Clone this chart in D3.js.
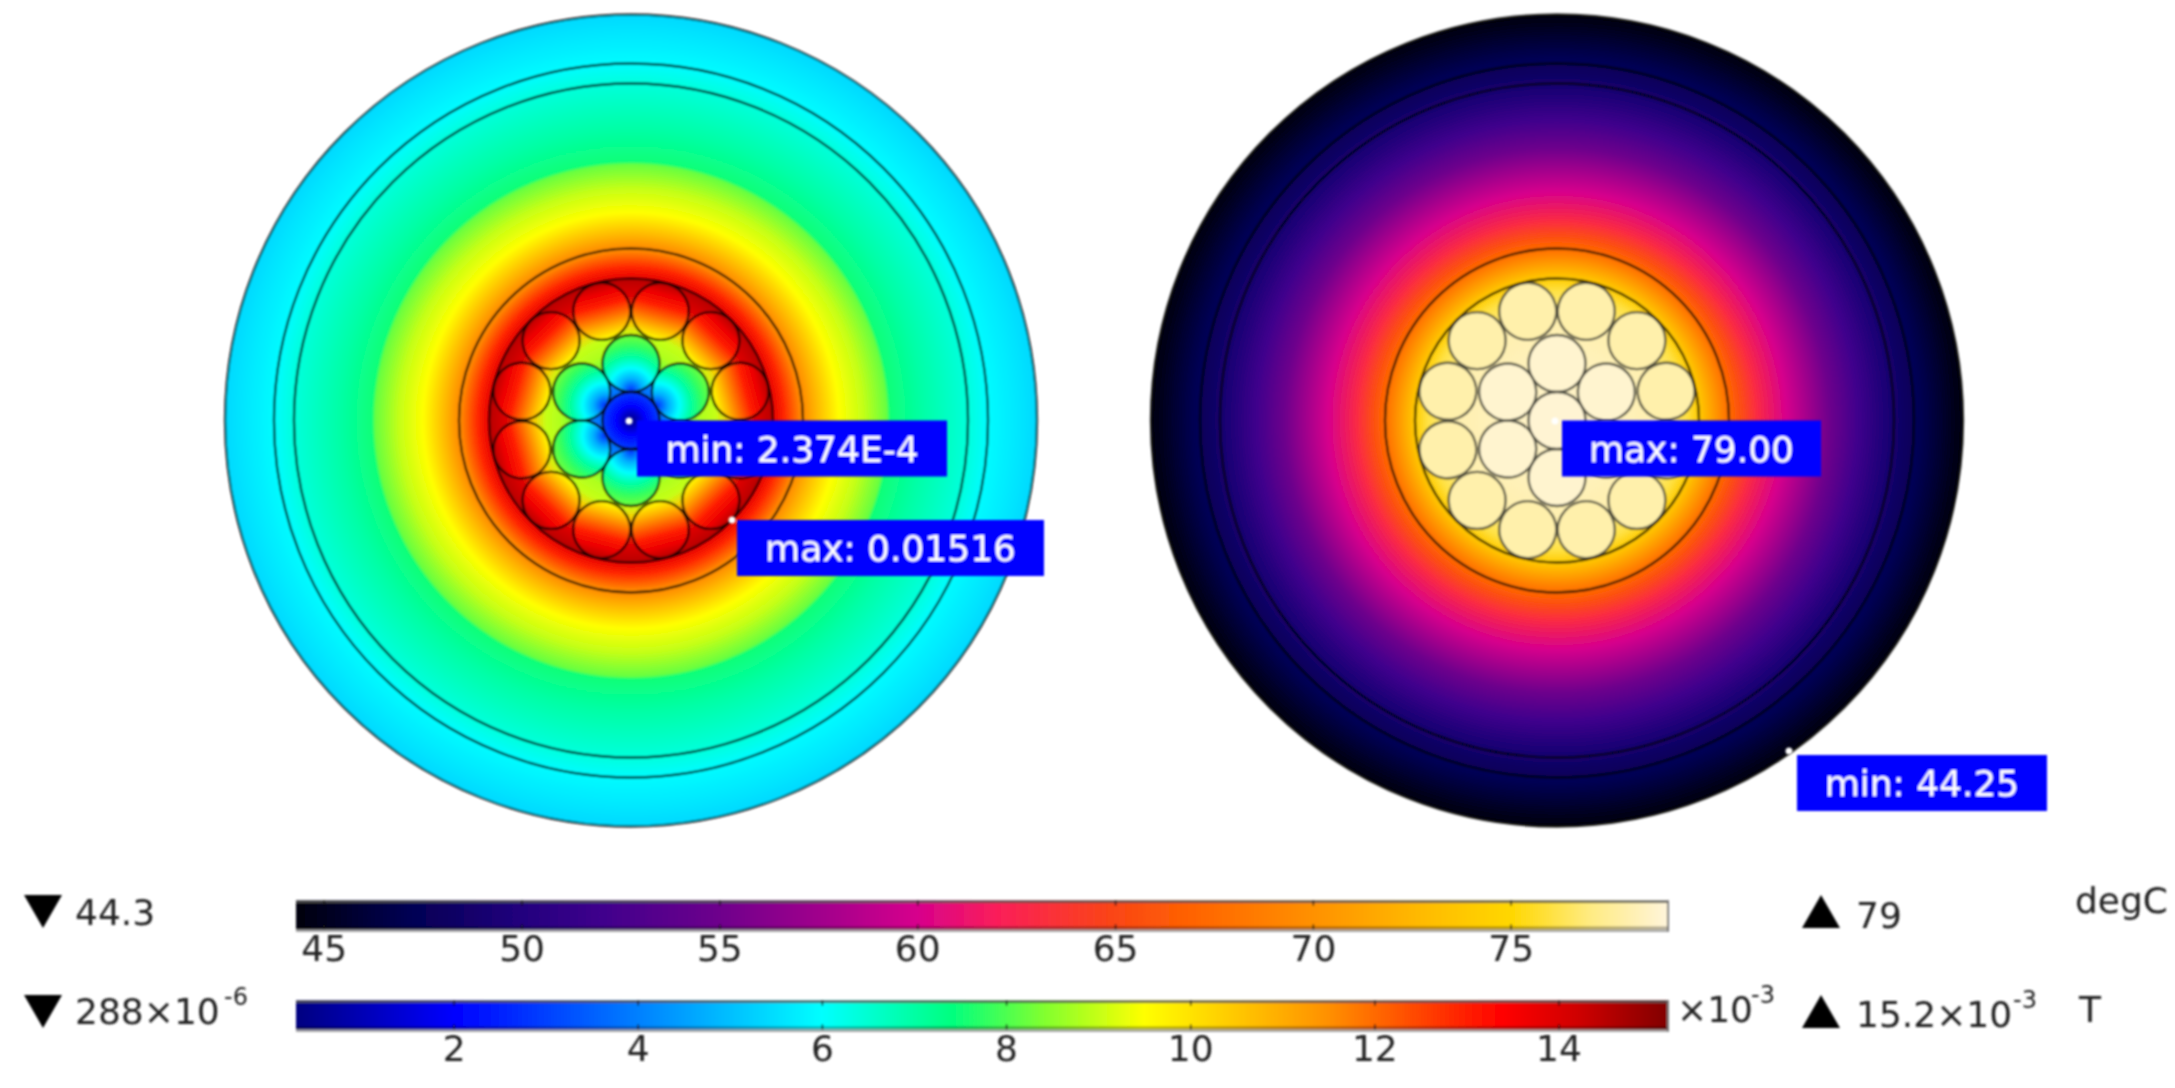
<!DOCTYPE html>
<html>
<head>
<meta charset="utf-8">
<script src="https://d3js.org/d3.v7.min.js"></script>
<style>
  html, body { margin: 0; padding: 0; background: #fff; }
  svg { display: block; }
  text { font-family: "DejaVu Sans", sans-serif; }
</style>
</head>
<body>
<div id="chart"></div>
<script>
// colour tables
var tempStops = [44.3, 47, 50, 52, 55, 58, 60, 62, 65, 67, 70, 73, 75, 77, 79];
var tempColors = ["#00000c", "#000050", "#22007e", "#3f008c", "#6e008c", "#aa008c", "#d7008c", "#fa1e5a", "#fa4614", "#ff6400", "#ff9100", "#ffbe00", "#ffd700", "#ffeb82", "#fff5dc"];
var fieldStops = [0.288, 2, 4, 6, 7.4, 8.4, 9.5, 11.5, 13.4, 14.2, 15.2];
var fieldColors = ["#000080", "#0000ff", "#0080ff", "#00ffff", "#00ff80", "#80ff30", "#ffff00", "#ff9000", "#ff0000", "#d00000", "#800000"];

// colour bar ticks
var tempTicks = [45, 50, 55, 60, 65, 70, 75];
var fieldTicks = [2, 4, 6, 8, 10, 12, 14];

// radial profiles, radius in px from the cable centre
var fieldRadii = [172, 186, 208, 232, 256, 259, 290, 337, 357, 406];
var fieldValues = [11.6, 10.8, 9.5, 9.0, 8.2, 7.5, 7.0, 6.4, 5.95, 5.4];
var sheathRadii = [142, 153, 172];
var sheathValues = [13.8, 12.9, 11.4];
var gapRadii = [0, 30, 45, 58, 70, 85, 98, 110, 125, 142];
var gapValues = [3.5, 3.7, 4.5, 8.3, 8.8, 9, 10.5, 12.5, 14, 14.5];

var tempRadii = [0, 100, 130, 142, 172, 181, 200, 229, 272, 301, 329, 345, 365, 406];
var tempValues = [78.7, 78, 76, 74, 67.5, 66, 63, 60, 55, 52, 49.5, 48.3, 47, 44.3];

// values across a strand, offset 0..1
var outerOffsets = [0, 0.2, 0.4, 0.6, 0.8, 1];
var outerValues = [14.5, 13.7, 13, 12, 10.8, 9.5];
var innerOffsets = [0, 0.2, 0.4, 0.6, 0.8, 1];
var innerValues = [2.8, 4.7, 6, 7, 7.8, 8.3];
var coreOffsets = [0, 0.2, 0.5, 1];
var coreValues = [0.3, 1, 2, 3];

var outerAngles = [15, 45, 75, 105, 135, 165, 195, 225, 255, 285, 315, 345];
var innerAngles = [0, 60, 120, 180, 240, 300];
var ringRadii = [406, 357, 337, 172, 142];

var width = 2175,
    height = 1088;

var tempColor = d3.scaleLinear().domain(tempStops).range(tempColors);
var fieldColor = d3.scaleLinear().domain(fieldStops).range(fieldColors);

var svg = d3.select("#chart").append("svg")
    .attr("width", width)
    .attr("height", height)
    .attr("viewBox", "0 0 " + width + " " + height);

var defs = svg.append("defs");

// the reference is a soft upscale, so everything gets a small blur
defs.append("filter").attr("id", "soft")
    .attr("x", "-5%").attr("y", "-5%").attr("width", "110%").attr("height", "110%")
    .append("feGaussianBlur").attr("stdDeviation", 0.8);

function addStops(grad, offsets, values, color) {
  grad.selectAll("stop")
    .data(offsets)
    .enter().append("stop")
      .attr("offset", function(d) { return d; })
      .attr("stop-color", function(d, i) { return color(values[i]); });
}

function radialGrad(id, radii, values, color) {
  var rMax = radii[radii.length - 1];
  var grad = defs.append("radialGradient").attr("id", id)
      .attr("gradientUnits", "userSpaceOnUse")
      .attr("cx", 0).attr("cy", 0).attr("r", rMax);
  addStops(grad, radii.map(function(r) { return r / rMax; }), values, color);
}

radialGrad("b-far", fieldRadii, fieldValues, fieldColor);
radialGrad("b-sheath", sheathRadii, sheathValues, fieldColor);
radialGrad("b-gap", gapRadii, gapValues, fieldColor);
radialGrad("t-all", tempRadii, tempValues, tempColor);

addStops(defs.append("linearGradient").attr("id", "b-outer")
    .attr("x1", 0).attr("y1", 0).attr("x2", 0).attr("y2", 1),
  outerOffsets, outerValues, fieldColor);
addStops(defs.append("radialGradient").attr("id", "b-inner")
    .attr("cx", 0.5).attr("cy", 0.97).attr("r", 0.97),
  innerOffsets, innerValues, fieldColor);
addStops(defs.append("radialGradient").attr("id", "b-core"),
  coreOffsets, coreValues, fieldColor);

function drawCable(cx, fills) {
  var g = svg.append("g")
      .attr("transform", "translate(" + cx + ",420.5)")
      .attr("filter", "url(#soft)");

  g.append("circle").attr("r", ringRadii[0]).attr("fill", fills.far);
  if (fills.sheath) g.append("circle").attr("r", 172).attr("fill", fills.sheath);
  if (fills.gap) g.append("circle").attr("r", 142).attr("fill", fills.gap);

  g.selectAll(".outer")
    .data(outerAngles)
    .enter().append("circle")
      .attr("class", "outer")
      .attr("r", 28.5)
      .attr("transform", function(d) { return "rotate(" + d + ") translate(0,-113)"; })
      .attr("fill", fills.outer)
      .attr("stroke", fills.strandLine)
      .attr("stroke-opacity", 0.85)
      .attr("stroke-width", 2.4);

  g.selectAll(".inner")
    .data(innerAngles)
    .enter().append("circle")
      .attr("class", "inner")
      .attr("r", 28.5)
      .attr("transform", function(d) { return "rotate(" + d + ") translate(0,-57)"; })
      .attr("fill", fills.inner)
      .attr("stroke", fills.strandLine)
      .attr("stroke-opacity", 0.85)
      .attr("stroke-width", 2.4);

  g.append("circle").attr("r", 28.5)
    .attr("fill", fills.core)
    .attr("stroke", fills.strandLine)
    .attr("stroke-opacity", 0.85)
    .attr("stroke-width", 2.4);

  g.selectAll(".ring")
    .data(ringRadii)
    .enter().append("circle")
      .attr("class", "ring")
      .attr("r", function(d) { return d; })
      .attr("fill", "none")
      .attr("stroke", "#000")
      .attr("stroke-opacity", 0.75)
      .attr("stroke-width", 2.4);
}

drawCable(631, {
  far: "url(#b-far)", sheath: "url(#b-sheath)", gap: "url(#b-gap)",
  outer: "url(#b-outer)", inner: "url(#b-inner)", core: "url(#b-core)",
  strandLine: "#000"
});
drawCable(1557, {
  far: "url(#t-all)",
  outer: tempColor(77.9), inner: tempColor(78.7), core: tempColor(78.8),
  strandLine: "#3c3c32"
});

// colour bars
function drawBar(id, y, domain, stops, color, ticks) {
  var x = d3.scaleLinear().domain(domain).range([296, 1669]);
  var grad = defs.append("linearGradient").attr("id", id)
      .attr("gradientUnits", "userSpaceOnUse")
      .attr("x1", x.range()[0]).attr("x2", x.range()[1]).attr("y1", 0).attr("y2", 0);
  addStops(grad, stops.map(function(s) { return (s - domain[0]) / (domain[1] - domain[0]); }), stops, color);

  var g = svg.append("g").attr("filter", "url(#soft)");
  g.append("rect").attr("x", 296).attr("y", y).attr("width", 1373).attr("height", 30)
    .attr("fill", "url(#" + id + ")");
  // grey frame on top, darker strip and grey line on the bottom
  g.append("rect").attr("x", 296).attr("y", y).attr("width", 1373).attr("height", 2.5)
    .attr("fill", "#4a4a4a").attr("fill-opacity", 0.9);
  g.append("rect").attr("x", 296).attr("y", y + 26).attr("width", 1373).attr("height", 3)
    .attr("fill", "#000").attr("fill-opacity", 0.3);
  g.append("rect").attr("x", 296).attr("y", y + 29).attr("width", 1373).attr("height", 2.5)
    .attr("fill", "#a8a8a8");
  g.append("rect").attr("x", 1667).attr("y", y).attr("width", 2).attr("height", 31)
    .attr("fill", "#777");

  var axis = g.append("g")
      .attr("transform", "translate(0," + (y + 29) + ")")
      .call(d3.axisBottom(x).tickValues(ticks).tickFormat(d3.format("d")).tickSize(-5).tickPadding(6));
  axis.select(".domain").remove();
  axis.selectAll(".tick line").attr("stroke", "#111").attr("stroke-width", 1.5);
  axis.selectAll(".tick text")
    .attr("fill", "#222")
    .style("font-size", "36px")
    .attr("font-family", '"DejaVu Sans", sans-serif');

  var top = g.append("g")
      .attr("transform", "translate(0," + y + ")")
      .call(d3.axisTop(x).tickValues(ticks).tickFormat("").tickSize(-5));
  top.select(".domain").remove();
  top.selectAll(".tick line").attr("stroke", "#111").attr("stroke-width", 1.5);
}

drawBar("bar-temp", 900.5, [44.3, 79], tempStops, tempColor, tempTicks);
drawBar("bar-field", 1000.5, [0.288, 15.2], fieldStops, fieldColor, fieldTicks);

// min / max labels
var labelTexts = ["min: 2.374E-4", "max: 0.01516", "max: 79.00", "min: 44.25"];
var labelBoxes = [[637, 420.5, 310, 56], [737, 520, 307, 56], [1562, 420.5, 259, 56], [1797, 755, 250, 56]];
var labelDots = [[629, 421], [732, 520], [1555, 421], [1789, 751]];

var ann = svg.append("g").attr("filter", "url(#soft)");
ann.selectAll(".dot")
  .data(labelDots)
  .enter().append("circle")
    .attr("class", "dot")
    .attr("cx", function(d) { return d[0]; })
    .attr("cy", function(d) { return d[1]; })
    .attr("r", 3.5)
    .attr("fill", "#fff");
ann.selectAll(".box")
  .data(labelBoxes)
  .enter().append("rect")
    .attr("class", "box")
    .attr("x", function(d) { return d[0]; })
    .attr("y", function(d) { return d[1]; })
    .attr("width", function(d) { return d[2]; })
    .attr("height", function(d) { return d[3]; })
    .attr("fill", "#0000ff");
ann.selectAll(".box-text")
  .data(labelTexts)
  .enter().append("text")
    .attr("class", "box-text")
    .attr("x", function(d, i) { return labelBoxes[i][0] + labelBoxes[i][2] / 2; })
    .attr("y", function(d, i) { return labelBoxes[i][1] + 41; })
    .attr("text-anchor", "middle")
    .attr("fill", "#fff")
    .style("font-size", "36px")
    .text(function(d) { return d; });

// range markers and units
var trianglePath = d3.line();
function triangle(x, y, up) {
  var pts = up ? [[x, y + 33], [x + 19, y], [x + 38, y + 33]] : [[x, y], [x + 38, y], [x + 19, y + 33]];
  ann.append("path").attr("d", trianglePath(pts) + "Z").attr("fill", "#000");
}
triangle(24, 895, false);
triangle(24, 995, false);
triangle(1802, 895, true);
triangle(1802, 995, true);

var sideTexts = [
  ["44.3", 75, 925, 36], ["288×10", 75, 1024, 36], ["-6", 224, 1005, 24],
  ["79", 1856, 928, 36], ["degC", 2075, 913, 36],
  ["×10", 1677, 1022, 36], ["-3", 1751, 1003, 24],
  ["15.2×10", 1856, 1027, 36], ["-3", 2013, 1008, 24], ["T", 2079, 1022, 36]
];
ann.selectAll(".side")
  .data(sideTexts)
  .enter().append("text")
    .attr("class", "side")
    .attr("x", function(d) { return d[1]; })
    .attr("y", function(d) { return d[2]; })
    .attr("fill", "#222")
    .style("font-size", function(d) { return d[3] + "px"; })
    .text(function(d) { return d[0]; });
</script>
</body>
</html>
